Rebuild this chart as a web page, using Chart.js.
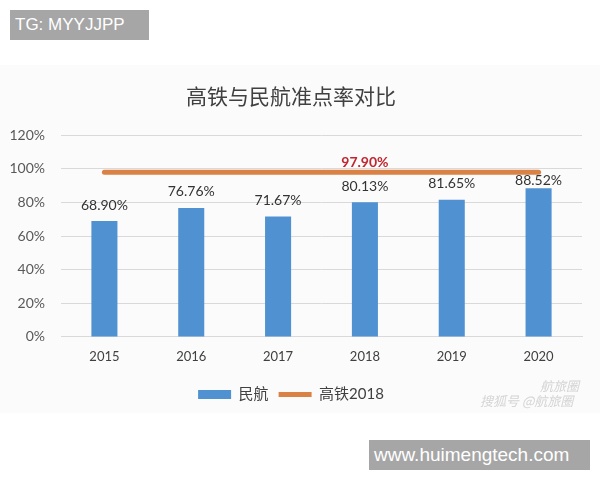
<!DOCTYPE html>
<html>
<head>
<meta charset="utf-8">
<script src="https://cdn.jsdelivr.net/npm/chart.js@4"></script>
<style>
  body { margin: 0; background: #fff; }
  #wrap { position: relative; width: 600px; height: 480px; overflow: hidden; }
  #panel { position: absolute; left: 0; top: 65px; width: 600px; height: 348px; background: #fbfbfb; }
  #chart { position: absolute; left: 0; top: 0; }
  .tag { position: absolute; background: #a6a6a6; color: #fff; font-family: "Liberation Sans", Arial, sans-serif; }
  #tg { left: 10px; top: 10px; width: 139px; height: 30px; line-height: 30px; font-size: 17px; padding-left: 5px; box-sizing: border-box; }
  #site { left: 369px; top: 440px; width: 221px; height: 30px; line-height: 30px; font-size: 19px; padding-left: 5px; box-sizing: border-box; }
  .mark { position: absolute; color: #d4d4d4; font-family: "Noto Sans CJK SC", sans-serif; font-style: italic; }
</style>
</head>
<body>
<div id="wrap">
  <div id="panel"></div>
  <canvas id="chart" width="600" height="480"></canvas>
  <div class="mark" style="left:540px; top:376px; font-size:13px;">航旅圈</div>
  <div class="mark" style="left:480px; top:391px; font-size:13px;">搜狐号 @航旅圈</div>
  <div class="tag" id="tg">TG: MYYJJPP</div>
  <div class="tag" id="site">www.huimengtech.com</div>
</div>
<script>
const years = ["2015", "2016", "2017", "2018", "2019", "2020"];
const airValues = [68.9, 76.76, 71.67, 80.13, 81.65, 88.52];
const railValues = [97.9, 97.9, 97.9, 97.9, 97.9, 97.9];
const railLabelYear = "2018";
const yMin = 0;
const yMax = 120;
const yStep = 20;

const numFont = 'Lato, "Noto Sans CJK SC", sans-serif';

// value labels above bars + the red label on the rail line
const valueLabels = {
  id: "valueLabels",
  afterDatasetsDraw(chart) {
    const ctx = chart.ctx;
    const bars = chart.getDatasetMeta(0).data;
    const pts = chart.getDatasetMeta(1).data;
    ctx.save();
    ctx.textAlign = "center";
    ctx.textBaseline = "middle";
    ctx.font = "14px " + numFont;
    ctx.fillStyle = "#333333";
    bars.forEach(function (bar, i) {
      let ty = bar.y - 16;
      const ly = pts[i].y;
      if (Math.abs(ty - ly) < 9) ty = ly + 8; // keep clear of the line
      ctx.fillText(airValues[i].toFixed(2) + "%", bar.x, ty);
    });
    const k = years.indexOf(railLabelYear);
    ctx.font = "bold 14px " + numFont;
    ctx.fillStyle = "#C0262F";
    ctx.fillText(railValues[k].toFixed(2) + "%", pts[k].x, pts[k].y - 10);
    ctx.restore();
  },
};

document.addEventListener("DOMContentLoaded", function () {
  const el = document.getElementById("chart");
  new Chart(el, {
    data: {
      labels: years,
      datasets: [
        {
          type: "bar",
          label: "民航",
          data: airValues,
          backgroundColor: "#5091D1",
          borderWidth: 0,
          barPercentage: 0.6,
          categoryPercentage: 0.5,
          pointStyle: "rect",
        },
        {
          type: "line",
          label: "高铁2018",
          data: railValues,
          borderColor: "#DA8146",
          backgroundColor: "#DA8146",
          borderWidth: 5,
          borderCapStyle: "round",
          pointRadius: 0,
          pointHoverRadius: 0,
          pointStyle: "line",
          fill: false,
        },
      ],
    },
    options: {
      responsive: false,
      animation: false,
      layout: {
        padding: { left: 0, right: 18, top: 0, bottom: 68 },
      },
      scales: {
        x: {
          grid: { display: false, drawTicks: false },
          border: { color: "#d9d9d9" },
          ticks: {
            padding: 13,
            color: "#404040",
            font: { family: numFont, size: 13, lineHeight: 1.08 },
          },
        },
        y: {
          min: yMin,
          max: yMax,
          afterFit: function (scale) {
            scale.width = 61;
          },
          grid: { color: "#d9d9d9", drawTicks: false },
          border: { display: false },
          ticks: {
            stepSize: yStep,
            padding: 16,
            color: "#595959",
            font: { family: numFont, size: 14 },
            callback: function (v) {
              return v + "%";
            },
          },
        },
      },
      plugins: {
        title: {
          display: true,
          text: "高铁与民航准点率对比",
          color: "#404040",
          font: { family: '"Noto Sans CJK SC", sans-serif', size: 21, weight: "normal" },
          padding: { top: 83, bottom: 27 },
        },
        legend: {
          position: "bottom",
          labels: {
            usePointStyle: true,
            pointStyleWidth: 33,
            boxHeight: 9,
            padding: 10,
            color: "#404040",
            font: { family: numFont, size: 15 },
          },
        },
        tooltip: { enabled: false },
      },
    },
    plugins: [valueLabels],
  });
});
</script>
</body>
</html>
